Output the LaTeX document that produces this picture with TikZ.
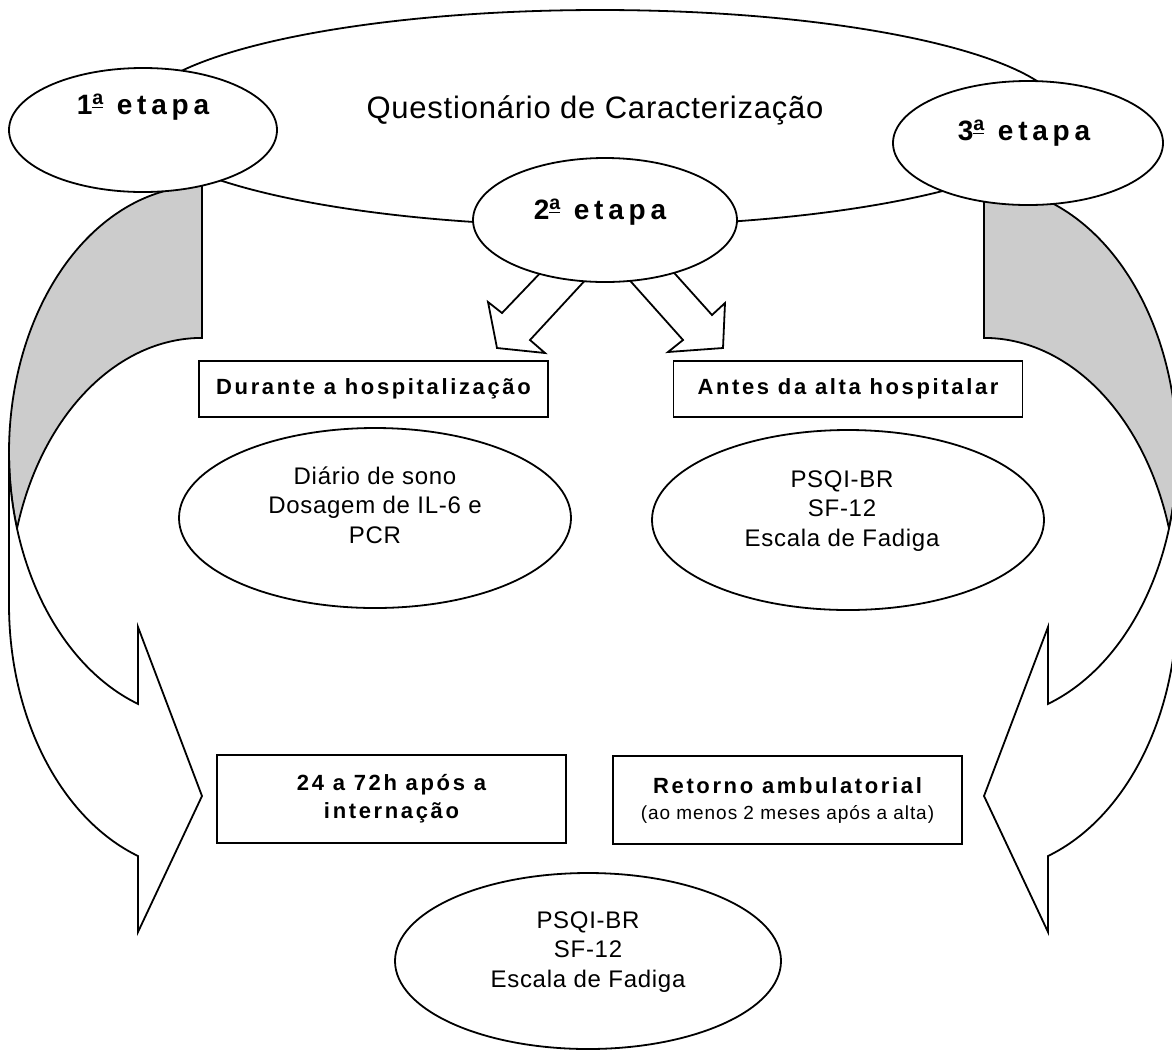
\documentclass[tikz,border=0pt]{standalone}
\usepackage{fontspec}
\setmainfont{Liberation Sans}
\usetikzlibrary{shapes.geometric,positioning}
\definecolor{fundocinza}{HTML}{CCCCCC}
\newcommand{\ordinalA}{\textsuperscript{\underline{a}}}

\tikzset{
  traco/.style={draw=black, line width=0.9pt, line join=miter},
  etapa/.style={traco, ellipse, fill=white, inner sep=0pt},
  caixa/.style={traco, rectangle, fill=white, inner sep=0pt, align=center,
    minimum width=174.5pt,
    font=\fontsize{11}{14}\selectfont\bfseries\addfontfeature{LetterSpace=12}},
  rotulo/.style={align=center, inner sep=0pt,
    font=\fontsize{12}{14.75}\selectfont\addfontfeature{LetterSpace=3}},
  rotuloetapa/.style={inner sep=0pt,
    font=\fontsize{14}{17}\selectfont\bfseries\addfontfeature{LetterSpace=17}},
  setacurva/.pic={
    % parte de tras (cinza)
    \draw[traco, fill=fundocinza] (202,186)
      arc[start angle=270, end angle=163.44, x radius=193, y radius=266.5]
      arc[start angle=196.56, end angle=270, x radius=193, y radius=266.5] -- cycle;
    % parte da frente
    \draw[traco, fill=white] (9,452.5)
      arc[start angle=180, end angle=109.37, x radius=193, y radius=266.5]
      -- (138,627) -- (202,796) -- (138,932) -- (138,856)
      arc[start angle=109.37, end angle=180, x radius=193, y radius=266.5] -- cycle;
  }
}

\begin{document}
\begin{tikzpicture}[x=0.5pt, y=-0.5pt]
\useasboundingbox (0,0) rectangle (1172,1051);

% setas curvas
\pic at (0,0) {setacurva};
\pic[xscale=-1] at (1186,0) {setacurva};

% questionario
\node[etapa, minimum width=465pt, minimum height=108pt] (quest) at (600,118) {};
\node[rotulo, font=\fontsize{15.5}{18}\selectfont\addfontfeature{LetterSpace=2.5}] (questtxt) at (595,110) {Questionário de Caracterização};

% etapas
\node[etapa, minimum width=134pt, minimum height=62pt] (e1) at (143,130) {};
\node[rotuloetapa] (e1txt) at (143,107) {1\ordinalA{} etapa};
\node[etapa, minimum width=135pt, minimum height=62pt] (e3) at (1028,143) {};
\node[rotuloetapa] (e3txt) at (1024,133) {3\ordinalA{} etapa};

% setas pequenas
\draw[traco, fill=white] (545,268) -- (502,313) -- (488,302) -- (497,348)
  -- (545,353) -- (530,340) -- (590,275) -- cycle;
\draw[traco, fill=white] (668,266) -- (712,315) -- (725,303) -- (723,348)
  -- (668,352) -- (683,340) -- (625,275) -- cycle;

\node[etapa, minimum width=132pt, minimum height=62pt] (e2) at (605,220) {};
\node[rotuloetapa] (e2txt) at (600,212) {2\ordinalA{} etapa};

% caixas
\node[caixa, minimum height=28pt] (durante) at (373.5,389) {Durante a hospitalização};
\node[caixa, minimum height=28pt] (antes) at (848,389) {Antes da alta hospitalar};
\node[caixa, minimum height=44pt] (internacao) at (391.5,799) {24 a 72h após a\\internação};
\node[caixa, minimum height=44pt] (retorno) at (787.5,800) {Retorno ambulatorial\\[-1pt]{\fontsize{9.5}{11}\selectfont\mdseries\addfontfeature{LetterSpace=5}(ao menos 2 meses após a alta)}};

% instrumentos
\node[etapa, minimum width=196pt, minimum height=90pt] (diario) at (375,518) {};
\node[rotulo] (diariotxt) at (375,505) {Diário de sono\\Dosagem de IL-6 e\\PCR};
\node[etapa, minimum width=196pt, minimum height=90pt] (alta) at (848,520) {};
\node[rotulo] (altatxt) at (842,511) {PSQI-BR\\SF-12\\Escala de Fadiga};
\node[etapa, minimum width=193pt, minimum height=88pt] (inicio) at (588,961) {};
\node[rotulo] (iniciotxt) at (588,952) {PSQI-BR\\SF-12\\Escala de Fadiga};
\end{tikzpicture}
\end{document}
